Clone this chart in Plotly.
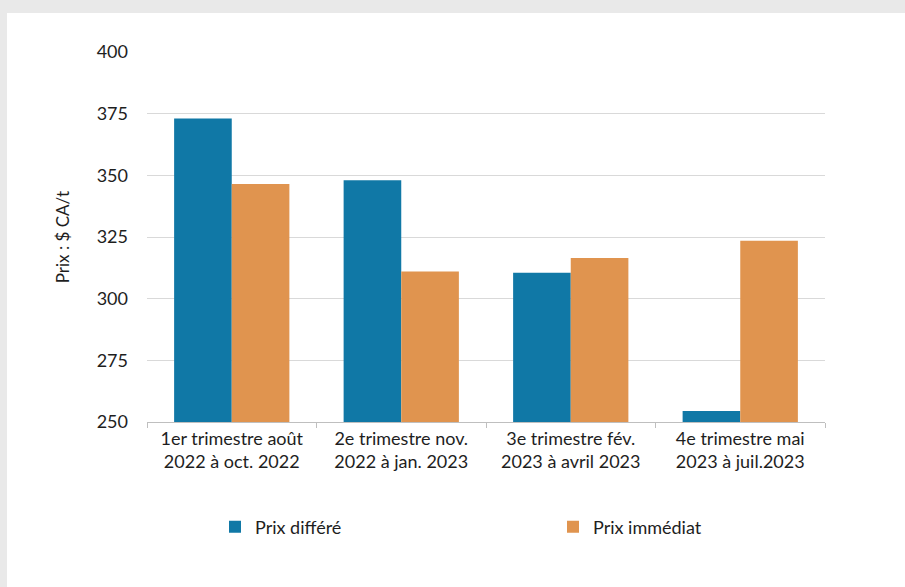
import plotly.graph_objects as go

# Quarterly price comparison (CAD per tonne)
trimestres = [
    "1er trimestre août<br>2022 à oct. 2022",
    "2e trimestre nov.<br>2022 à jan. 2023",
    "3e trimestre fév.<br>2023 à avril 2023",
    "4e trimestre mai<br>2023 à juil.2023",
]
prix_differe = [373, 348, 310.5, 254.5]
prix_immediat = [346.5, 311, 316.5, 323.5]
y_ticks = [250, 275, 300, 325, 350, 375, 400]

W, H = 905, 587
L, R, T, B = 147, 80, 52, 165
FONT = "Lato"
TXT = "#1e1e1e"

fig = go.Figure()
fig.add_trace(go.Bar(x=trimestres, y=prix_differe, name="Prix différé",
                     legend="legend",
                     marker=dict(color="#1078A6", line=dict(width=0))))
fig.add_trace(go.Bar(x=trimestres, y=prix_immediat, name="Prix immédiat",
                     legend="legend2",
                     marker=dict(color="#E0944F", line=dict(width=0))))

pw, ph = W - L - R, H - T - B
# white card over a light grey surround
fig.add_shape(type="rect", xref="paper", yref="paper", layer="below",
              x0=(7 - L) / pw, x1=(W + 5 - L) / pw,
              y0=(H - B - (H + 5)) / ph, y1=(H - B - 13) / ph,
              fillcolor="white", line=dict(width=0))

legend_style = dict(orientation="h", xref="container", yref="container",
                    y=1 - 527 / H, xanchor="left", yanchor="middle",
                    font=dict(family=FONT, size=18, color=TXT),
                    bgcolor="rgba(0,0,0,0)", itemclick=False)

fig.update_layout(
    width=W, height=H,
    margin=dict(l=L, r=R, t=T, b=B, pad=0),
    paper_bgcolor="#e9e9e9", plot_bgcolor="rgba(0,0,0,0)",
    barmode="group", bargap=0.32, bargroupgap=0,
    font=dict(family=FONT, size=18, color=TXT),
    showlegend=True,
    legend=dict(x=215 / W, **legend_style),
    legend2=dict(x=553 / W, **legend_style),
    xaxis=dict(showline=True, linecolor="#bfbfbf", linewidth=1,
               ticks="outside", tickson="boundaries", ticklen=5,
               tickcolor="#bfbfbf", showgrid=False,
               tickfont=dict(family=FONT, size=18, color=TXT)),
    yaxis=dict(range=[250, 400], tickvals=y_ticks, showgrid=True,
               gridcolor="#d9d9d9", gridwidth=1, zeroline=False,
               showline=False, ticks="", ticklabelstandoff=18,
               tickfont=dict(family=FONT, size=18, color=TXT),
               title=dict(text="Prix : $ CA/t", standoff=22,
                          font=dict(family=FONT, size=17, color=TXT))),
)

fig.write_html("out.html")
